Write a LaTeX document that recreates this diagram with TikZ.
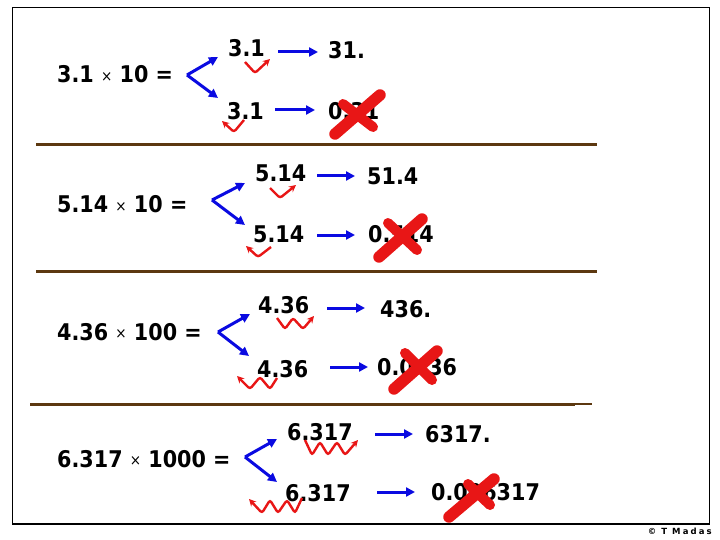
\documentclass[tikz,border=0pt]{standalone}
\usepackage{fontspec}
\setmainfont{DejaVu Sans}
\newfontfamily\numfont{DejaVu Sans}[FakeStretch=0.9]
\newfontfamily\copyfont{DejaVu Sans}[LetterSpace=25]
\usetikzlibrary{arrows.meta}
\definecolor{brn}{RGB}{92,56,16}
\definecolor{arrblue}{RGB}{10,10,225}
\definecolor{xred}{RGB}{232,22,22}
\newcommand\tms{{\mdseries\fontsize{15}{15}\selectfont\raisebox{1.5pt}{×}}}
\begin{document}
\begin{tikzpicture}[x=1pt,y=-1pt,
  num/.style={font=\numfont\bfseries\fontsize{23}{23}\selectfont, inner sep=0pt, anchor=base west},
  barr/.style={draw=arrblue, line width=3pt, -{Triangle[length=9pt,width=9pt]}},
  hop/.style={draw=xred, line width=2.4pt, rounded corners=2.5pt, -{Stealth[length=7pt,width=7pt]}},
  crossl/.style={draw=xred, line width=11.5pt, line cap=round},
  crosss/.style={draw=xred, line width=10pt, line cap=round},
  sep/.style={draw=brn, line width=3pt}]
\useasboundingbox (0,0) rectangle (720,540);
\fill[white] (0,0) rectangle (720,540);
% frame
\draw[line width=1.5pt] (12.5,7.5) rectangle (709.5,524);
% separators
\draw[sep] (36,145) -- (597,145);
\draw[sep] (36,271) -- (597,271);
\draw[sep] (30,404) -- (575,404);
\draw[draw=brn, line width=2pt] (575,404) -- (592,404);

% ---------- Row 1 ----------
\node[num] (l1) at (57,83) {3.1 \tms{} 10 =};
\node[num] (a1) at (228,57) {3.1};
\node[num] (b1) at (328,59) {31.};
\node[num] (c1) at (227,120) {3.1};
\node[num] (d1) at (328,120) {0.31};
\coordinate (v1) at (187,75);
\coordinate (u1) at (218,57);
\coordinate (w1) at (218,98);
\draw[barr] (v1) -- (u1);
\draw[barr] (v1) -- (w1);
\coordinate (s1a) at (278,52); \coordinate (e1a) at (318,52);
\coordinate (s1b) at (275,110); \coordinate (e1b) at (315,110);
\draw[barr] (s1a) -- (e1a);
\draw[barr] (s1b) -- (e1b);
\draw[hop] (245,62) -- (255,73) -- (270,59);
\draw[hop] (244,120) -- (234,132) -- (222,121);
\draw[crossl] (380,95) -- (335,134);
\draw[crosss] (343,104) -- (373,127);

% ---------- Row 2 ----------
\node[num] (l2) at (57,213) {5.14 \tms{} 10 =};
\node[num] (a2) at (255,182) {5.14};
\node[num] (b2) at (367,185) {51.4};
\node[num] (c2) at (253,243) {5.14};
\node[num] (d2) at (368,243) {0.514};
\coordinate (v2) at (212,200);
\coordinate (u2) at (245,183);
\coordinate (w2) at (245,225);
\draw[barr] (v2) -- (u2);
\draw[barr] (v2) -- (w2);
\coordinate (s2a) at (317,176); \coordinate (e2a) at (355,176);
\coordinate (s2b) at (317,235); \coordinate (e2b) at (355,235);
\draw[barr] (s2a) -- (e2a);
\draw[barr] (s2b) -- (e2b);
\draw[hop] (270,188) -- (280,198) -- (296,185);
\draw[hop] (271,247) -- (258,257) -- (246,246);
\draw[crossl] (422,219) -- (379,257);
\draw[crosss] (388,223) -- (417,250);

% ---------- Row 3 ----------
\node[num] (l3) at (57,340) {4.36 \tms{} 100 =};
\node[num] (a3) at (258,313) {4.36};
\node[num] (b3) at (380,317) {436.};
\node[num] (c3) at (257,377) {4.36};
\node[num] (d3) at (377,375) {0.0436};
\coordinate (v3) at (218,332);
\coordinate (u3) at (250,314);
\coordinate (w3) at (249,356);
\draw[barr] (v3) -- (u3);
\draw[barr] (v3) -- (w3);
\coordinate (s3a) at (327,308); \coordinate (e3a) at (365,308);
\coordinate (s3b) at (330,367); \coordinate (e3b) at (368,367);
\draw[barr] (s3a) -- (e3a);
\draw[barr] (s3b) -- (e3b);
\draw[hop] (277,318) -- (285,329) -- (293,318) -- (303,329) -- (314,316);
\draw[hop] (277,378) -- (270,389) -- (260,377) -- (250,389) -- (237,376);
\draw[crossl] (437,351) -- (394,389);
\draw[crosss] (405,353) -- (432,380);

% ---------- Row 4 ----------
\node[num] (l4) at (57,467) {6.317 \tms{} 1000 =};
\node[num] (a4) at (287,440) {6.317};
\node[num] (b4) at (425,442) {6317.};
\node[num] (c4) at (285,501) {6.317};
\node[num] (d4) at (431,500) {0.006317};
\coordinate (v4) at (245,457);
\coordinate (u4) at (277,439);
\coordinate (w4) at (277,482);
\draw[barr] (v4) -- (u4);
\draw[barr] (v4) -- (w4);
\coordinate (s4a) at (375,434); \coordinate (e4a) at (413,434);
\coordinate (s4b) at (377,492); \coordinate (e4b) at (415,492);
\draw[barr] (s4a) -- (e4a);
\draw[barr] (s4b) -- (e4b);
\draw[hop] (305,440) -- (312,455) -- (320,442) -- (328,455) -- (337,442) -- (345,455) -- (358,440);
\draw[hop] (302,498) -- (295,513) -- (287,500) -- (278,513) -- (270,500) -- (262,513) -- (249,499);
\draw[crossl] (494,479) -- (449,517);
\draw[crosss] (468,484) -- (490,505);

% copyright
\node[font=\copyfont\bfseries\fontsize{8.5}{9}\selectfont, inner sep=0pt, anchor=base east] (cp) at (712,534) {© T Madas};
\end{tikzpicture}
\end{document}
